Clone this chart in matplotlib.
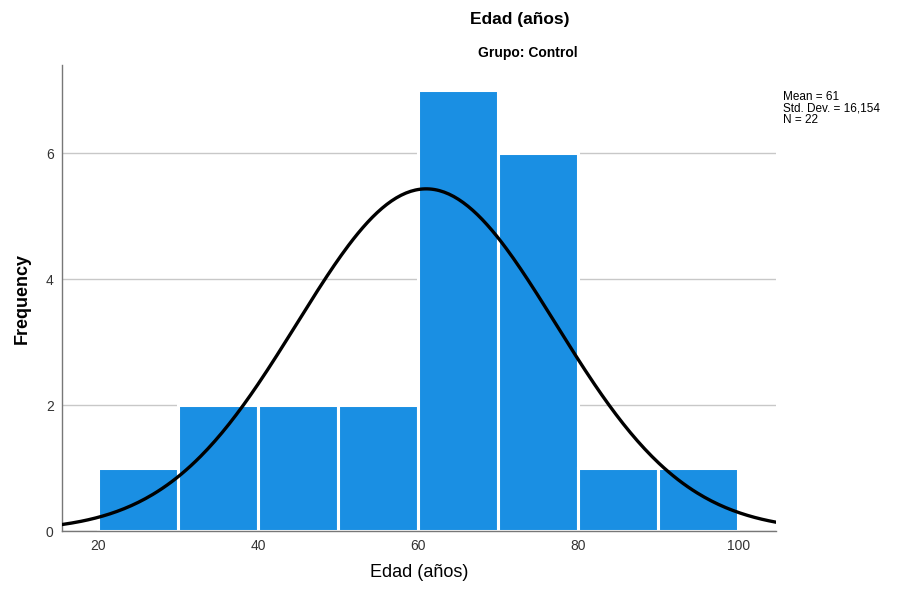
import numpy as np
import matplotlib
matplotlib.use('Agg')
import matplotlib.pyplot as plt

# datos del histograma (Grupo: Control)
bin_edges = [20, 30, 40, 50, 60, 70, 80, 90, 100]
counts = [1, 2, 2, 2, 7, 6, 1, 1]
mean = 61
std = 16.154
n = 22
yticks = [0, 2, 4, 6]
xticks = [20, 40, 60, 80, 100]

plt.rcParams['font.family'] = ['Liberation Sans', 'DejaVu Sans']

fig = plt.figure(figsize=(9.01, 5.99), dpi=100)
ax = fig.add_axes([0.0688, 0.1135, 0.7925, 0.778])

lefts = bin_edges[:-1]
widths = np.diff(bin_edges)
ax.bar(lefts, counts, width=widths, align='edge', color='#1a8fe3',
       edgecolor='white', linewidth=2.2, zorder=2)

# curva normal con media, desviación y N del gráfico
xlim = (15.5, 104.7)
xs = np.linspace(xlim[0], xlim[1], 300)
bw = widths[0]
ys = n * bw / (std * np.sqrt(2 * np.pi)) * np.exp(-0.5 * ((xs - mean) / std) ** 2)
ax.plot(xs, ys, color='black', linewidth=2.4, zorder=3)

ax.set_xlim(*xlim)
ax.set_ylim(0, 7.4)
ax.set_xticks(xticks)
ax.set_yticks(yticks)
ax.tick_params(length=0, labelsize=10, colors='#333333', pad=6)
for s in ['top', 'right']:
    ax.spines[s].set_visible(False)
for s in ['left', 'bottom']:
    ax.spines[s].set_color('#777777')
    ax.spines[s].set_linewidth(1.0)
ax.yaxis.grid(True, color='#c8c8c8', linewidth=1.0, zorder=0)
ax.set_axisbelow(True)

ax.set_xlabel('Edad (años)', fontsize=13, labelpad=8)
ax.set_ylabel('Frequency', fontsize=13, fontweight='bold', labelpad=11)

fig.text(0.577, 0.967, 'Edad (años)', ha='center', va='center',
         fontsize=12.5, fontweight='bold')
fig.text(0.586, 0.911, 'Grupo: Control', ha='center', va='center',
         fontsize=10, fontweight='bold')

stats = 'Mean = %d\nStd. Dev. = %s\nN = %d' % (mean, ('%.3f' % std).replace('.', ','), n)
fig.text(0.869, 0.848, stats, ha='left', va='top', fontsize=8.5,
         linespacing=0.95)

fig.savefig('out.png', dpi=100)
